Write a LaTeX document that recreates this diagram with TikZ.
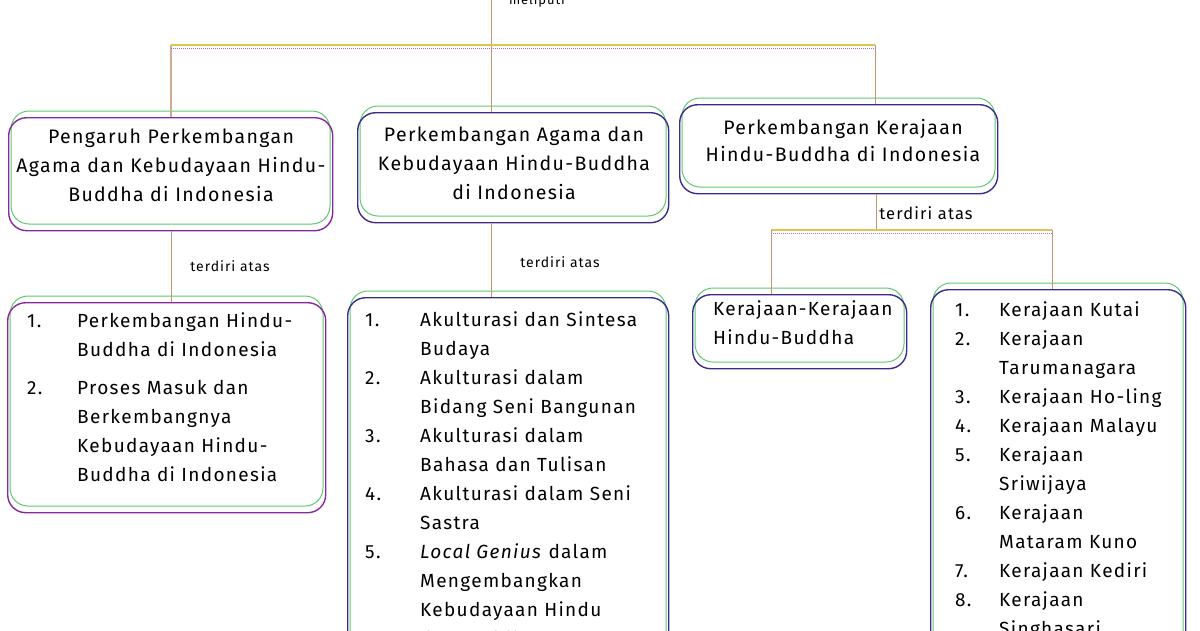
\documentclass[tikz,border=0pt]{standalone}
\usepackage{fontspec}
\setmainfont{Fira Sans}[LetterSpace=7]
\usetikzlibrary{positioning}

\definecolor{hijau}{RGB}{95,200,115}
\definecolor{ungu}{RGB}{135,40,160}
\definecolor{nila}{RGB}{60,45,140}
\definecolor{kuning}{RGB}{225,195,80}
\definecolor{coklat}{RGB}{195,150,115}
\definecolor{lembayung}{RGB}{165,110,195}

\tikzset{
  kotak/.style={anchor=north west, line width=1.4pt, rounded corners=18pt, inner sep=0pt},
  tajuk/.style={anchor=north, inner sep=0pt, font=\fontsize{19.5}{29}\selectfont},
  daftar/.style={anchor=north west, inner sep=0pt, font=\fontsize{19}{29}\selectfont},
  ket/.style={inner sep=0pt, font=\fontsize{14}{16}\selectfont},
  garis/.style={coklat, line width=1pt},
}

\begin{document}
\begin{tikzpicture}[x=1pt,y=1pt]
        \useasboundingbox (0,0) rectangle (1200,-630);
        \clip (0,0) rectangle (1200,-630);
        \fill[white] (0,0) rectangle (1200,-630);

        % Boxes
        \foreach \n/\x/\y/\w/\h/\c in {b1/8/117/324/113/ungu, b2/357/112/311/110/nila,
            b3/679/104/318/89/nila, b4/7/302/318/210/ungu, b5/347/297/321/400/nila,
            b6/692/294/214/74/nila, b7/930/289/255/400/nila} {
          \draw[hijau, line width=1pt, rounded corners=18pt] (\x+3,-\y+6) rectangle (\x+\w-2,-\y-\h+6);
          \node[kotak, draw=\c, minimum width=\w pt, minimum height=\h pt] (\n) at (\x,-\y) {};
        }

        % Headings
        \node[tajuk] (t1) at (171,-123) {\begin{tabular}{@{}c@{}}Pengaruh Perkembangan\\
          Agama dan Kebudayaan Hindu-\\ Buddha di Indonesia\end{tabular}};
        \node[tajuk] (t2) at (514,-121) {\begin{tabular}{@{}c@{}}Perkembangan Agama dan\\
          Kebudayaan Hindu-Buddha\\ di Indonesia\end{tabular}};
        \node[tajuk] (t3) at (843,-114) {\begin{tabular}{@{}c@{}}Perkembangan Kerajaan\\[-2pt]
          Hindu-Buddha di Indonesia\end{tabular}};

        % Lists
        \node[daftar] (t4) at (27,-307) {\begin{tabular}{@{}p{50pt}@{}l@{}}
          1. & Perkembangan Hindu-\\ & Buddha di Indonesia\\[9pt]
          2. & Proses Masuk dan\\ & Berkembangnya\\ & Kebudayaan Hindu-\\ & Buddha di Indonesia
          \end{tabular}};
        \node[daftar] (t5) at (365,-306) {\begin{tabular}{@{}p{55pt}@{}l@{}}
          1. & Akulturasi dan Sintesa\\ & Budaya\\
          2. & Akulturasi dalam\\ & Bidang Seni Bangunan\\
          3. & Akulturasi dalam\\ & Bahasa dan Tulisan\\
          4. & Akulturasi dalam Seni\\ & Sastra\\
          5. & \textit{Local Genius} dalam\\ & Mengembangkan\\ & Kebudayaan Hindu\\ & dan Buddha
          \end{tabular}};
        \node[daftar] (t6) at (713,-295) {\begin{tabular}{@{}l@{}}
          Kerajaan-Kerajaan\\ Hindu-Buddha\end{tabular}};
        \node[daftar] (t7) at (955,-296) {\begin{tabular}{@{}p{44pt}@{}l@{}}
          1. & Kerajaan Kutai\\ 2. & Kerajaan\\ & Tarumanagara\\
          3. & Kerajaan Ho-ling\\ 4. & Kerajaan Malayu\\
          5. & Kerajaan\\ & Sriwijaya\\ 6. & Kerajaan\\ & Mataram Kuno\\
          7. & Kerajaan Kediri\\ 8. & Kerajaan\\ & Singhasari
          \end{tabular}};

        % Connectors
        \coordinate (puncak) at (491,10);
        \coordinate (kiri) at (171,-45);
        \coordinate (kanan) at (875,-45);
        \coordinate (cabang) at (876,-230);
        \coordinate (cabangkiri) at (771,-230);
        \coordinate (cabangkanan) at (1052,-230);
        \draw[garis] (puncak) -- (puncak |- b2.north);
        \draw[garis, line width=2.5pt, coklat!80] (kiri) -- (kiri |- b1.north);
        \draw[garis] (kanan) -- (kanan |- b3.north);
        \draw[kuning, line width=1.2pt] (kiri) -- (kanan);
        \draw[lembayung, densely dotted, line width=1pt] ([yshift=-3pt]kiri) -- ([yshift=-3pt]kanan);
        \draw[garis] (kiri |- b1.south) -- (kiri |- b4.north);
        \draw[garis] (puncak |- b2.south) -- (puncak |- b5.north);
        \draw[garis] (cabang |- b3.south) -- (cabang);
        \draw[kuning, line width=1.2pt] (cabangkiri) -- (cabangkanan);
        \draw[lembayung, densely dotted, line width=1pt] ([yshift=-3pt]cabangkiri) -- ([yshift=-3pt]cabangkanan);
        \draw[garis] (cabangkiri) -- (cabangkiri |- b6.north);
        \draw[garis] (cabangkanan) -- (cabangkanan |- b7.north);

        % Labels
        \node[ket, font=\fontsize{13}{15}\selectfont] (l0) at (537,-1) {meliputi};
        \node[ket] (l1) at (230,-266) {terdiri atas};
        \node[ket] (l2) at (560,-262) {terdiri atas};
        \node[ket, font=\fontsize{16.5}{18}\selectfont] (l3) at (926,-213) {terdiri atas};
\end{tikzpicture}
\end{document}
